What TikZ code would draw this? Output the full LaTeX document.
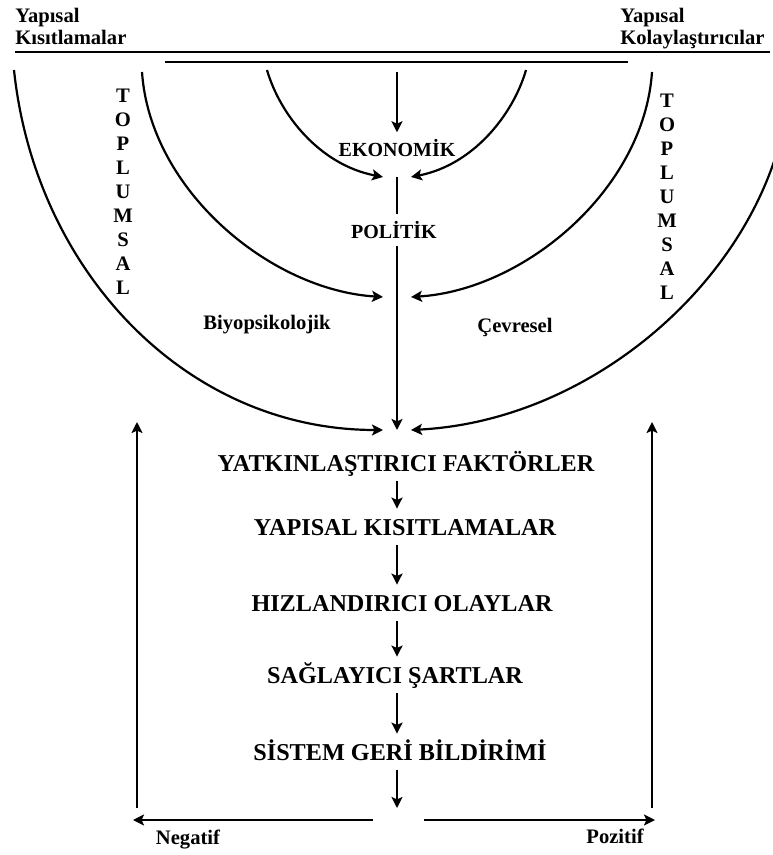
\documentclass[tikz,border=0pt]{standalone}
\usepackage{fontspec}
\setmainfont{Liberation Serif}
\usetikzlibrary{arrows.meta}

\begin{document}
\begin{tikzpicture}[x=0.5pt, y=-0.5pt, every node/.style={font=\bfseries}]
\tikzset{small/.style={font=\fontsize{10.3}{11}\selectfont\bfseries}}
\tikzset{sector/.style={font=\fontsize{10}{12}\selectfont\bfseries}}
\tikzset{tall/.style={font=\fontsize{10.3}{12}\selectfont\bfseries, align=center, inner sep=0pt}}
\tikzset{stage/.style={font=\fontsize{12.1}{14}\selectfont\bfseries, text height=8pt, text depth=0pt, inner xsep=2pt, inner ysep=5pt}}
\tikzset{hub/.style={inner sep=0pt, outer sep=0pt, minimum width=14pt, minimum height=0pt}}
\tikzset{arrow/.style={-{Stealth[length=5.5pt, width=5.5pt, inset=1.2pt]}, line width=1.1pt}}
\tikzset{rule/.style={line width=1.1pt}}
\useasboundingbox (0,0) rectangle (772,855);
% top labels and rules
\node[small, align=left, anchor=north west, inner sep=0pt] (kis) at (15,8) {Yapısal\\Kısıtlamalar};
\node[small, align=left, anchor=north west, inner sep=0pt] (kol) at (620,8) {Yapısal\\Kolaylaştırıcılar};
\draw[rule] (15,52) -- (770,52);
\draw[rule] (165,62) -- (628,62);
% central axis
\coordinate (top) at (397,72);
\node[sector] (eko) at (397,148) {EKONOMİK};
\node[hub] (j1) at (397,177) {};
\node[sector] (pol) at (394,230) {POLİTİK};
\node[hub] (j2) at (397,297) {};
\node[hub] (j3) at (397,430) {};
\draw[arrow] (top) -- (eko);
\draw[rule] (j1.south) -- (j1.south |- pol.north);
\draw[arrow] (pol.south -| j3) -- (j3);
% arcs
\coordinate (a1) at (267,70);
\coordinate (b1) at (526,70);
\coordinate (a2) at (142,72);
\coordinate (b2) at (652,72);
\coordinate (a3) at (14,70);
\coordinate (b3) at (790,75);
\draw[arrow] (a1) .. controls (280,115) and (320,165) .. (j1.west);
\draw[arrow] (b1) .. controls (513,115) and (473,165) .. (j1.east);
\draw[arrow] (a2) .. controls (150,190) and (270,290) .. (j2.west);
\draw[arrow] (b2) .. controls (644,190) and (524,290) .. (j2.east);
\draw[arrow] (a3) .. controls (35,270) and (185,430) .. (j3.west);
\draw[arrow] (b3) .. controls (785,250) and (610,420) .. (j3.east);
\node[small] (bio) at (267,325) {Biyopsikolojik};
\node[small] (cev) at (515,327) {Çevresel};
\node[tall] (topL) at (123,192) {T\\O\\P\\L\\U\\M\\S\\A\\L};
\node[tall] (topR) at (667,197) {T\\O\\P\\L\\U\\M\\S\\A\\L};
% stages
\node[stage] (yat) at (406,463) {YATKINLAŞTIRICI FAKTÖRLER};
\node[stage] (yap) at (405,527) {YAPISAL KISITLAMALAR};
\node[stage] (hiz) at (402,603) {HIZLANDIRICI OLAYLAR};
\node[stage] (sag) at (395,675) {SAĞLAYICI ŞARTLAR};
\node[stage] (sis) at (400,752) {SİSTEM GERİ BİLDİRİMİ};
\coordinate (out) at (397,808);
\draw[arrow] (yat.south -| j3) -- (yap.north -| j3);
\draw[arrow] (yap.south -| j3) -- (hiz.north -| j3);
\draw[arrow] (hiz.south -| j3) -- (sag.north -| j3);
\draw[arrow] (sag.south -| j3) -- (sis.north -| j3);
\draw[arrow] (sis.south -| j3) -- (out);
% feedback
\coordinate (negS) at (373,820);
\coordinate (negE) at (133,820);
\coordinate (posS) at (424,820);
\coordinate (posE) at (655,820);
\coordinate (negB) at (137,808);
\coordinate (negT) at (137,422);
\coordinate (posB) at (652,808);
\coordinate (posT) at (652,422);
\draw[arrow] (negS) -- (negE);
\draw[arrow] (posS) -- (posE);
\draw[arrow] (negB) -- (negT);
\draw[arrow] (posB) -- (posT);
\node[small] (neg) at (188,840) {Negatif};
\node[small] (poz) at (615,836) {Pozitif};
\end{tikzpicture}
\end{document}
